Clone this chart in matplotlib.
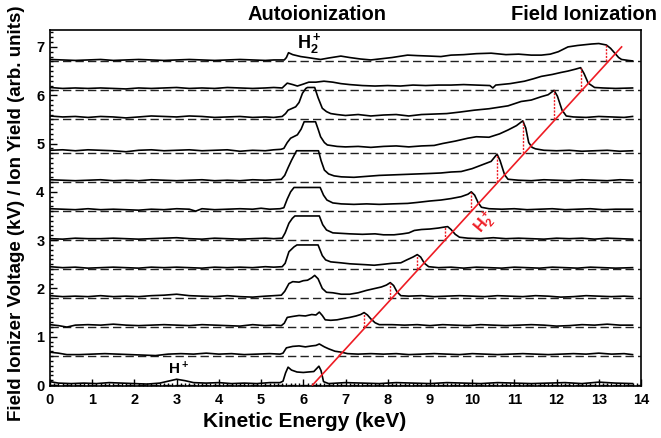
import numpy as np
import matplotlib
matplotlib.use("Agg")
import matplotlib.pyplot as plt
from matplotlib.ticker import MultipleLocator

plt.rcParams['font.family'] = ['Liberation Sans', 'DejaVu Sans']
plt.rcParams['font.weight'] = 'bold'
plt.rcParams['mathtext.fontset'] = 'custom'
plt.rcParams['mathtext.rm'] = 'Liberation Sans:bold'
plt.rcParams['mathtext.bf'] = 'Liberation Sans:bold'
plt.rcParams['mathtext.default'] = 'bf'

# ---------------- data (energy keV, signal above baseline) ----------------
baselines = [0.0, 0.6, 1.2, 1.8, 2.4, 3.0, 3.6, 4.2, 4.8, 5.5, 6.1, 6.7]

trace_00 = [(0.0,0.07),(0.2,0.04),(0.5,0.03),(0.8,0.04),(1.1,0.03),(1.4,0.05),(1.7,0.04),(2.0,0.03),(2.3,0.02),(2.6,0.04),
            (2.8,0.08),(3.0,0.12),(3.2,0.09),(3.4,0.05),(3.7,0.04),(4.0,0.05),(4.3,0.03),(4.6,0.04),(4.9,0.03),(5.2,0.05),
            (5.45,0.05),(5.52,0.08),(5.58,0.25),(5.64,0.37),(5.72,0.31),(5.85,0.27),(6.0,0.26),(6.12,0.27),(6.25,0.28),(6.37,0.39),
            (6.42,0.30),(6.48,0.07),(6.6,0.03),(7.0,0.05),(7.4,0.04),(7.8,0.03),(8.2,0.05),(8.6,0.04),(9.0,0.03),(9.4,0.05),
            (9.8,0.04),(10.2,0.03),(10.6,0.05),(11.0,0.04),(11.4,0.03),(11.8,0.04),(12.2,0.05),(12.6,0.03),(13.0,0.06),(13.4,0.04),(13.8,0.03)]

trace_06 = [(0.0,0.08),(0.2,0.06),(0.4,0.03),(0.7,0.03),(1.0,0.04),(1.3,0.05),(1.6,0.04),(1.9,0.03),(2.2,0.02),(2.5,0.01),
            (2.8,0.04),(3.1,0.05),(3.4,0.04),(3.7,0.06),(4.0,0.04),(4.3,0.05),(4.6,0.03),(4.9,0.04),(5.2,0.05),(5.45,0.04),
            (5.52,0.06),(5.6,0.17),(5.75,0.20),(5.9,0.21),(6.05,0.19),(6.2,0.21),(6.3,0.22),(6.38,0.25),(6.5,0.19),(6.6,0.15),
            (6.75,0.10),(6.9,0.08),(7.05,0.05),(7.3,0.04),(7.6,0.05),(7.9,0.04),(8.2,0.05),(8.5,0.03),(8.8,0.04),(9.1,0.05),
            (9.4,0.04),(9.7,0.03),(10.0,0.05),(10.3,0.04),(10.6,0.03),(10.9,0.04),(11.2,0.05),(11.5,0.04),(11.8,0.03),(12.1,0.04),
            (12.4,0.05),(12.7,0.04),(13.0,0.06),(13.3,0.04),(13.6,0.05),(13.8,0.03)]

trace_12 = [(0.0,0.05),(0.2,0.03),(0.4,0.0),(0.6,0.04),(0.9,0.05),(1.2,0.04),(1.5,0.06),(1.8,0.04),(2.1,0.03),(2.4,0.04),
            (2.7,0.05),(3.0,0.04),(3.3,0.03),(3.6,0.05),(3.9,0.04),(4.2,0.03),(4.5,0.02),(4.8,0.05),(5.1,0.03),(5.3,0.04),
            (5.48,0.03),(5.55,0.08),(5.62,0.20),(5.75,0.22),(5.9,0.24),(6.05,0.23),(6.2,0.26),(6.3,0.25),(6.38,0.31),(6.45,0.24),
            (6.52,0.15),(6.65,0.14),(6.8,0.15),(6.97,0.18),(7.1,0.20),(7.25,0.23),(7.36,0.26),(7.44,0.30),(7.52,0.25),(7.6,0.17),
            (7.7,0.09),(7.8,0.05),(8.1,0.05),(8.4,0.04),(8.7,0.05),(9.0,0.03),(9.3,0.05),(9.6,0.04),(9.9,0.03),(10.2,0.05),
            (10.5,0.04),(10.8,0.03),(11.1,0.04),(11.4,0.05),(11.7,0.04),(12.0,0.02),(12.3,0.03),(12.6,0.05),(12.9,0.04),(13.2,0.06),
            (13.5,0.04),(13.8,0.04)]

trace_18 = [(0.0,0.05),(0.3,0.03),(0.6,0.04),(0.9,0.03),(1.2,0.05),(1.5,0.03),(1.8,0.04),(2.1,0.03),(2.4,0.05),(2.7,0.06),
            (3.0,0.08),(3.3,0.05),(3.6,0.04),(3.9,0.03),(4.2,0.05),(4.5,0.03),(4.8,0.02),(5.1,0.04),(5.3,0.05),(5.48,0.06),
            (5.56,0.14),(5.66,0.30),(5.75,0.34),(5.9,0.33),(6.0,0.36),(6.1,0.37),(6.2,0.42),(6.27,0.47),(6.35,0.40),(6.45,0.20),
            (6.55,0.12),(6.7,0.11),(6.9,0.08),(7.1,0.08),(7.3,0.11),(7.5,0.16),(7.7,0.20),(7.85,0.23),(7.97,0.27),(8.06,0.32),
            (8.14,0.26),(8.22,0.13),(8.31,0.05),(8.5,0.04),(8.8,0.05),(9.1,0.03),(9.4,0.04),(9.7,0.05),(10.0,0.04),(10.3,0.03),
            (10.6,0.05),(10.9,0.04),(11.2,0.03),(11.5,0.05),(11.8,0.04),(12.1,0.02),(12.4,0.03),(12.7,0.05),(13.0,0.04),(13.3,0.03),
            (13.6,0.04),(13.8,0.03)]

trace_24 = [(0.0,0.05),(0.3,0.03),(0.6,0.04),(0.9,0.02),(1.2,0.03),(1.5,0.04),(1.8,0.03),(2.1,0.02),(2.4,0.04),(2.7,0.03),
            (3.0,0.04),(3.3,0.03),(3.6,0.02),(3.9,0.04),(4.2,0.03),(4.5,0.04),(4.8,0.03),(5.1,0.05),(5.3,0.04),(5.5,0.05),
            (5.57,0.12),(5.66,0.36),(5.78,0.46),(5.85,0.50),(6.35,0.50),(6.45,0.28),(6.53,0.19),(6.65,0.15),(6.89,0.13),(7.1,0.11),
            (7.3,0.10),(7.5,0.09),(7.68,0.08),(7.9,0.10),(8.1,0.12),(8.31,0.13),(8.45,0.19),(8.6,0.25),(8.7,0.30),(8.78,0.25),
            (8.87,0.12),(8.97,0.05),(9.2,0.03),(9.5,0.04),(9.8,0.02),(10.1,0.04),(10.4,0.03),(10.7,0.02),(11.0,0.04),(11.3,0.03),
            (11.6,0.02),(11.9,0.04),(12.2,0.03),(12.5,0.02),(12.8,0.04),(13.1,0.03),(13.4,0.02),(13.8,0.03)]

trace_30 = [(0.0,0.03),(0.3,0.02),(0.6,0.04),(0.9,0.03),(1.2,0.03),(1.5,0.04),(1.8,0.03),(2.1,0.02),(2.4,0.03),(2.7,0.04),
            (3.0,0.05),(3.3,0.03),(3.6,0.02),(3.9,0.04),(4.2,0.03),(4.5,0.02),(4.8,0.03),(5.1,0.04),(5.3,0.03),(5.5,0.04),
            (5.57,0.15),(5.66,0.35),(5.74,0.45),(5.8,0.50),(6.38,0.50),(6.46,0.32),(6.55,0.21),(6.7,0.15),(6.9,0.14),(7.1,0.13),
            (7.4,0.12),(7.7,0.13),(7.9,0.11),(8.15,0.11),(8.35,0.13),(8.5,0.15),(8.63,0.20),(8.8,0.22),(9.0,0.23),(9.2,0.25),
            (9.34,0.27),(9.42,0.28),(9.5,0.22),(9.6,0.12),(9.7,0.06),(9.9,0.04),(10.2,0.03),(10.5,0.05),(10.8,0.03),(11.1,0.04),
            (11.4,0.03),(11.7,0.02),(12.0,0.04),(12.3,0.03),(12.6,0.04),(12.9,0.02),(13.2,0.04),(13.5,0.03),(13.8,0.02)]

trace_36 = [(0.0,0.05),(0.3,0.04),(0.6,0.03),(0.9,0.05),(1.2,0.03),(1.5,0.04),(1.8,0.03),(2.1,0.02),(2.4,0.04),(2.7,0.03),
            (3.0,0.05),(3.3,0.04),(3.45,0.0),(3.6,0.05),(3.9,0.03),(4.2,0.04),(4.5,0.05),(4.8,0.04),(5.0,0.06),(5.2,0.04),
            (5.45,0.05),(5.54,0.07),(5.62,0.25),(5.7,0.40),(5.78,0.49),(6.4,0.49),(6.48,0.33),(6.56,0.23),(6.7,0.17),(6.9,0.15),
            (7.2,0.14),(7.5,0.15),(7.8,0.14),(8.1,0.15),(8.47,0.16),(8.7,0.18),(9.0,0.21),(9.26,0.23),(9.5,0.26),(9.74,0.30),
            (9.9,0.35),(9.98,0.40),(10.06,0.33),(10.14,0.18),(10.22,0.08),(10.4,0.05),(10.7,0.04),(11.0,0.05),(11.3,0.03),(11.6,0.04),
            (11.9,0.05),(12.2,0.03),(12.5,0.04),(12.8,0.05),(13.1,0.03),(13.4,0.04),(13.8,0.04)]

trace_42 = [(0.0,0.05),(0.3,0.04),(0.6,0.03),(0.9,0.04),(1.2,0.05),(1.5,0.03),(1.8,0.04),(2.1,0.03),(2.4,0.05),(2.7,0.04),
            (3.0,0.03),(3.3,0.04),(3.6,0.05),(3.9,0.03),(4.2,0.04),(4.5,0.03),(4.8,0.05),(5.1,0.04),(5.3,0.05),(5.48,0.06),
            (5.56,0.14),(5.64,0.30),(5.72,0.45),(5.84,0.65),(6.36,0.65),(6.42,0.45),(6.5,0.25),(6.6,0.17),(6.73,0.13),(6.9,0.11),
            (7.2,0.10),(7.5,0.12),(7.8,0.14),(8.1,0.15),(8.4,0.16),(8.7,0.17),(9.0,0.18),(9.26,0.19),(9.5,0.21),(9.74,0.22),
            (10.0,0.28),(10.21,0.35),(10.45,0.43),(10.59,0.58),(10.66,0.45),(10.77,0.15),(10.85,0.06),(11.1,0.04),(11.4,0.03),(11.7,0.05),
            (12.0,0.04),(12.3,0.03),(12.6,0.05),(12.9,0.04),(13.2,0.03),(13.5,0.05),(13.8,0.04)]

trace_48 = [(0.0,0.06),(0.3,0.07),(0.6,0.05),(0.9,0.07),(1.2,0.06),(1.5,0.05),(1.8,0.03),(2.1,0.06),(2.4,0.07),(2.7,0.05),
            (3.0,0.06),(3.3,0.07),(3.6,0.05),(3.9,0.06),(4.2,0.07),(4.5,0.04),(4.8,0.06),(5.1,0.05),(5.3,0.07),(5.47,0.08),
            (5.54,0.10),(5.62,0.22),(5.7,0.31),(5.86,0.38),(5.95,0.50),(6.02,0.65),(6.29,0.65),(6.35,0.50),(6.41,0.34),(6.5,0.22),
            (6.57,0.17),(6.8,0.14),(7.0,0.13),(7.3,0.14),(7.6,0.12),(7.9,0.14),(8.2,0.15),(8.5,0.13),(8.8,0.15),(9.1,0.16),
            (9.3,0.20),(9.6,0.25),(9.9,0.31),(10.1,0.34),(10.4,0.33),(10.65,0.40),(10.85,0.48),(11.05,0.57),(11.2,0.67),(11.27,0.52),
            (11.34,0.22),(11.42,0.12),(11.5,0.09),(11.7,0.06),(12.0,0.05),(12.3,0.06),(12.6,0.04),(12.9,0.05),(13.2,0.06),(13.5,0.04),
            (13.8,0.05)]

trace_55 = [(0.0,0.07),(0.3,0.05),(0.6,0.06),(0.9,0.04),(1.2,0.06),(1.5,0.05),(1.8,0.03),(2.1,0.05),(2.4,0.07),(2.7,0.06),
            (3.0,0.05),(3.3,0.07),(3.6,0.06),(3.9,0.04),(4.2,0.05),(4.5,0.06),(4.8,0.04),(5.1,0.05),(5.3,0.04),(5.5,0.06),
            (5.58,0.12),(5.64,0.19),(5.82,0.26),(5.9,0.35),(5.98,0.54),(6.06,0.64),(6.1,0.66),(6.27,0.66),(6.35,0.45),(6.45,0.23),
            (6.55,0.16),(6.65,0.12),(6.8,0.10),(7.0,0.08),(7.3,0.10),(7.6,0.07),(7.9,0.09),(8.2,0.10),(8.5,0.07),(8.8,0.10),
            (9.1,0.11),(9.4,0.12),(9.7,0.15),(10.05,0.19),(10.4,0.22),(10.85,0.28),(11.16,0.37),(11.4,0.40),(11.64,0.47),(11.8,0.51),
            (11.94,0.60),(12.02,0.48),(12.13,0.19),(12.23,0.07),(12.4,0.05),(12.7,0.04),(13.0,0.06),(13.3,0.05),(13.6,0.04),(13.8,0.06)]

trace_61 = [(0.0,0.06),(0.3,0.04),(0.6,0.05),(0.9,0.04),(1.2,0.05),(1.5,0.04),(1.8,0.03),(2.1,0.05),(2.4,0.04),(2.7,0.05),
            (3.0,0.06),(3.3,0.04),(3.6,0.05),(3.9,0.04),(4.2,0.06),(4.5,0.05),(4.8,0.04),(5.1,0.05),(5.3,0.06),(5.5,0.05),
            (5.62,0.15),(5.75,0.12),(5.86,0.09),(6.0,0.13),(6.13,0.17),(6.3,0.17),(6.49,0.19),(6.7,0.17),(6.89,0.14),(7.1,0.12),
            (7.4,0.10),(7.7,0.09),(8.0,0.10),(8.3,0.09),(8.6,0.11),(8.9,0.10),(9.2,0.11),(9.5,0.11),(9.8,0.12),(10.1,0.11),
            (10.42,0.10),(10.49,0.05),(10.56,0.11),(10.9,0.14),(11.24,0.19),(11.45,0.24),(11.64,0.29),(11.9,0.33),(12.1,0.37),(12.27,0.40),
            (12.45,0.44),(12.57,0.47),(12.65,0.35),(12.75,0.15),(12.9,0.06),(13.1,0.05),(13.4,0.04),(13.8,0.05)]

trace_67 = [(0.0,0.04),(0.3,0.03),(0.6,0.02),(0.9,0.03),(1.2,0.04),(1.5,0.02),(1.8,0.03),(2.1,0.04),(2.4,0.03),(2.7,0.02),
            (3.0,0.03),(3.3,0.04),(3.6,0.03),(3.9,0.02),(4.2,0.03),(4.5,0.04),(4.8,0.03),(5.1,0.02),(5.3,0.03),(5.55,0.03),
            (5.6,0.08),(5.65,0.18),(5.75,0.14),(5.94,0.10),(6.1,0.08),(6.25,0.06),(6.41,0.04),(6.6,0.07),(6.89,0.11),(7.1,0.08),
            (7.35,0.05),(7.6,0.03),(7.8,0.05),(8.1,0.08),(8.47,0.13),(8.7,0.12),(9.0,0.11),(9.26,0.10),(9.5,0.13),(9.8,0.14),
            (10.1,0.16),(10.45,0.17),(10.8,0.14),(11.1,0.15),(11.4,0.13),(11.64,0.13),(11.85,0.15),(12.04,0.20),(12.27,0.30),(12.5,0.33),
            (12.83,0.36),(13.0,0.37),(13.18,0.34),(13.28,0.27),(13.38,0.17),(13.47,0.08),(13.54,0.04),(13.7,0.02),(13.8,0.01)]

traces = [trace_00, trace_06, trace_12, trace_18, trace_24, trace_30,
          trace_36, trace_42, trace_48, trace_55, trace_61, trace_67]

# field-ionization peak positions (keV) for traces with baseline 0.6 ... 6.7
fi_peak_energy = [6.84, 7.44, 8.06, 8.70, 9.36, 9.98, 10.59, 11.20, 11.94, 12.57, 13.18]
# red H2+ field-ionization line end points
fi_line_energy = [6.22, 13.54]
fi_line_voltage = [0.0, 7.0]

xticks = list(range(0, 15))
yticks = list(range(0, 8))

RED = '#ee1c24'

# ---------------- figure ----------------
fig = plt.figure(figsize=(6.61, 4.38), dpi=100)
ax = fig.add_axes([50/661, 1-386/438, 591/661, 356/438])

for base in baselines:
    ax.plot([0, 14], [base, base], color='#222222', lw=1.0, ls=(0, (6, 3)), zorder=1)

for base, tr in zip(baselines, traces):
    e = np.array([p[0] for p in tr])
    s = np.array([p[1] for p in tr])
    ax.plot(e, base + s, color='black', lw=1.2, zorder=3)

ax.plot(fi_line_energy, fi_line_voltage, color=RED, lw=1.2, zorder=4)

for base, tr, ep in zip(baselines[1:], traces[1:], fi_peak_energy):
    e = np.array([p[0] for p in tr])
    s = np.array([p[1] for p in tr])
    top = base + np.interp(ep, e, s)
    ax.plot([ep, ep], [base, top], color=RED, lw=1.0, ls=(0, (1.5, 1.0)), zorder=4)

ax.set_xlim(0, 14)
ax.set_ylim(-0.02, 7.35)
ax.set_xticks(xticks)
ax.set_yticks(yticks)
ax.xaxis.set_minor_locator(MultipleLocator(0.1))
ax.yaxis.set_minor_locator(MultipleLocator(0.1))
ax.tick_params(which='both', direction='in', top=False, right=False, width=1.0)
ax.tick_params(which='major', length=5)
ax.tick_params(which='minor', length=2.5)
ax.tick_params(axis='x', labelsize=10.5, pad=5)
ax.tick_params(axis='y', labelsize=10.5, pad=4)
for lab in ax.get_xticklabels() + ax.get_yticklabels():
    lab.set_fontweight('bold')
for sp in ax.spines.values():
    sp.set_linewidth(1.2)

ax.text(0.43, -0.10, 'Kinetic Energy (keV)', transform=ax.transAxes,
        ha='center', va='center', fontsize=15, fontweight='bold')
ax.text(-0.056, 0.485, 'Field Ionizer Voltage (kV) / Ion Yield (arb. units)',
        transform=ax.transAxes, rotation=90, ha='center', va='center',
        fontsize=13.5, fontweight='bold')

ax.text(6.32, 1.044, 'Autoionization', transform=ax.get_xaxis_transform(),
        ha='center', va='center', fontsize=14.5, fontweight='bold')
ax.text(12.65, 1.044, 'Field Ionization', transform=ax.get_xaxis_transform(),
        ha='center', va='center', fontsize=14.5, fontweight='bold')

ax.text(6.15, 7.08, 'H$_2^+$', ha='center', va='center', fontsize=13, fontweight='bold')
ax.text(3.04, 0.33, 'H$^+$', ha='center', va='center', fontsize=11, fontweight='bold')
ax.text(10.31, 3.37, 'H$_2^+$', ha='center', va='center', fontsize=11.5,
        fontweight='bold', color=RED, rotation=50)

fig.savefig('out.png', dpi=100)
